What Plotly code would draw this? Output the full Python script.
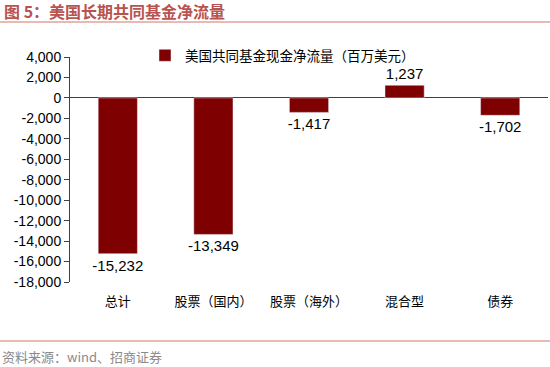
import plotly.graph_objects as go

categories = ["总计", "股票（国内）", "股票（海外）", "混合型", "债券"]
values = [-15232, -13349, -1417, 1237, -1702]
labels = ["-15,232", "-13,349", "-1,417", "1,237", "-1,702"]
tick_vals = list(range(-18000, 4001, 2000))
tick_text = [f"{v:,}" for v in tick_vals]

W, H = 550, 367
L, R, T, B = 70, 2, 57, 85
PW, PH = W - L - R, H - T - B

fig = go.Figure()
fig.add_trace(go.Bar(
    x=categories, y=values, name="美国共同基金现金净流量（百万美元）",
    marker_color="#7f0000", width=0.41,
    text=labels, textposition="outside", cliponaxis=False, constraintext="none",
    textfont=dict(family="Liberation Sans, Arial", size=15, color="#000000"),
))
fig.update_layout(
    width=W, height=H,
    margin=dict(l=L, r=R, t=T, b=B, autoexpand=False),
    paper_bgcolor="white", plot_bgcolor="white",
    showlegend=True,
    legend=dict(x=(145 - L) / PW, y=1 + (57 - 40) / PH, xanchor="left", yanchor="top",
                font=dict(family="Noto Sans CJK SC", size=13.5, color="#000000"),
                bgcolor="rgba(0,0,0,0)", itemwidth=30),
    xaxis=dict(showline=False, ticks="", tickfont=dict(family="Noto Sans CJK SC", size=13, color="#000"),
               ticklabelstandoff=10),
    yaxis=dict(range=[-18000, 4000], tickvals=tick_vals, ticktext=tick_text,
               showline=True, linecolor="#404040", linewidth=1, ticks="outside", ticklen=5,
               tickcolor="#404040", showgrid=False, zeroline=True, zerolinecolor="#404040",
               zerolinewidth=1.2,
               tickfont=dict(family="Liberation Sans, Arial", size=14, color="#000")),
)

# title, rules and source note
fig.add_annotation(x=-(L - 2) / PW, y=1 + (T - 11) / PH, xref="paper", yref="paper",
                   text="<b>图 5：美国长期共同基金净流量</b>", showarrow=False,
                   xanchor="left", yanchor="middle",
                   font=dict(family="Noto Sans CJK SC", size=16, color="#b8534f"))
fig.add_shape(type="line", xref="paper", yref="paper",
              x0=-L / PW, x1=1 + R / PW,
              y0=1 + (T - 22) / PH, y1=1 + (T - 22) / PH,
              line=dict(color="#e0a39a", width=1.5))
fig.add_shape(type="line", xref="paper", yref="paper",
              x0=-L / PW, x1=1 + R / PW,
              y0=-(341 - (H - B)) / PH, y1=-(341 - (H - B)) / PH,
              line=dict(color="#e0a39a", width=1.5))
fig.add_annotation(x=-L / PW, y=-(356 - (H - B)) / PH, xref="paper", yref="paper",
                   text="资料来源：wind、招商证券", showarrow=False,
                   xanchor="left", yanchor="middle",
                   font=dict(family="Noto Sans CJK SC", size=13, color="#8a8a8a"))

fig.write_html("out.html", config={"displayModeBar": False},
               post_script="document.body.style.margin='0';")
